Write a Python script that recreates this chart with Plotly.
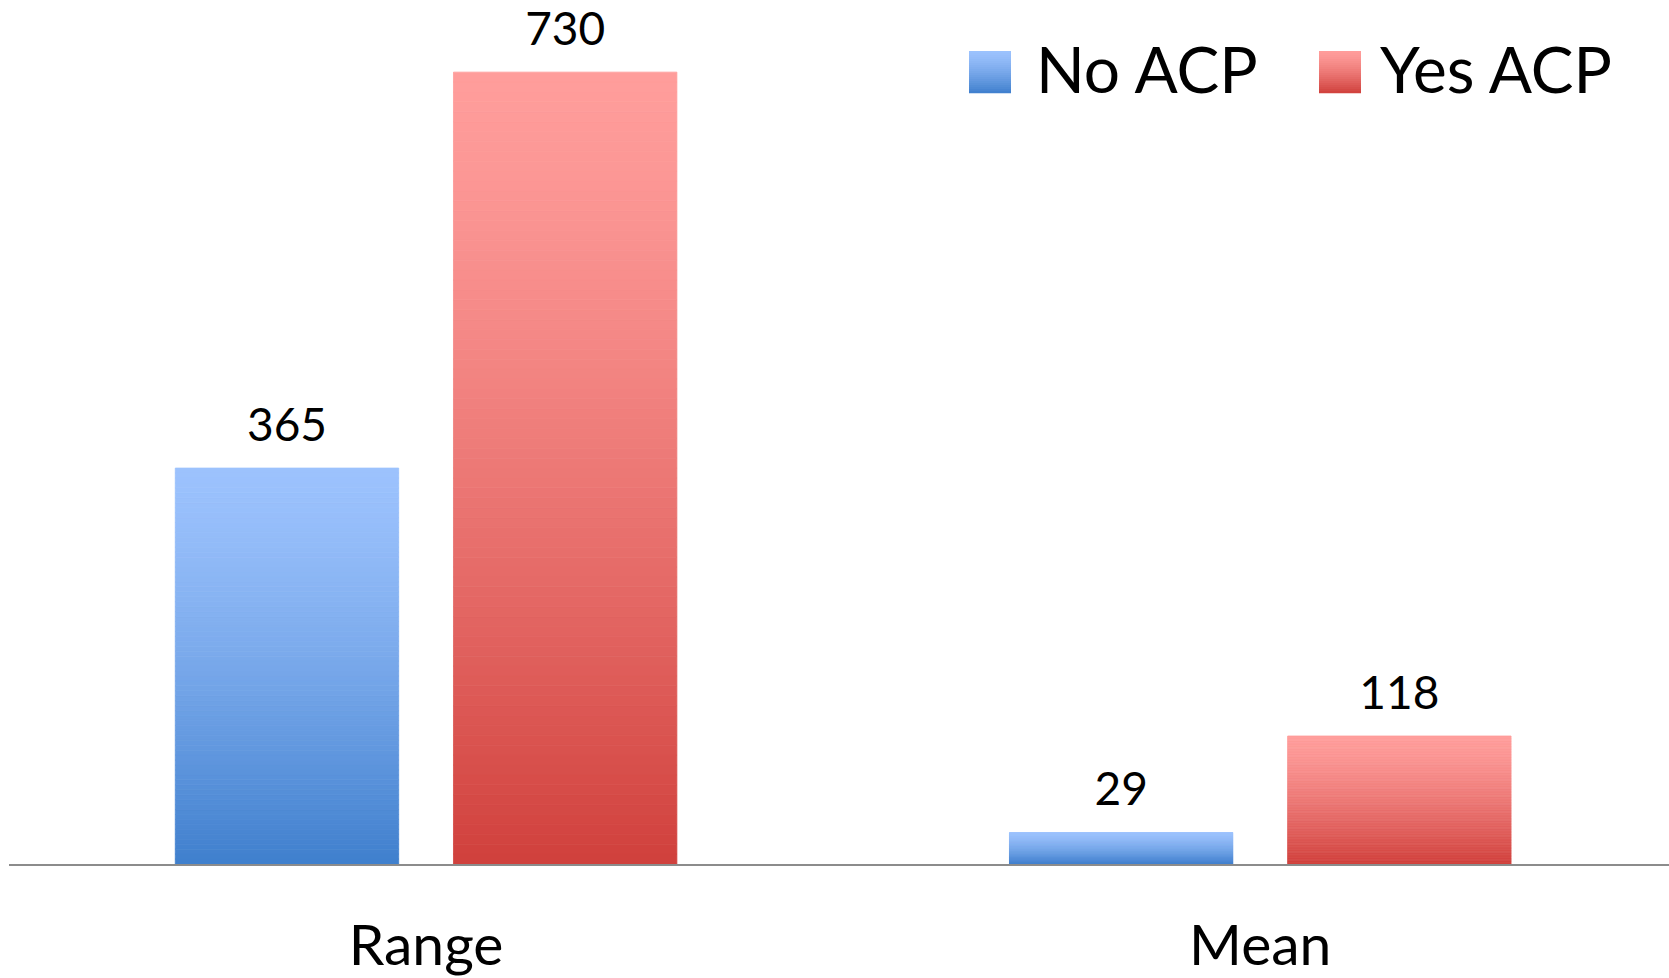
import plotly.graph_objects as go

# Chart data
categories = ["Range", "Mean"]
series_names = ["No ACP", "Yes ACP"]
no_acp = [365, 29]
yes_acp = [730, 118]

# Vertical gradient colours (top -> bottom) for each series
grad_colors = {
    "No ACP": ((156, 194, 253), (63, 127, 205)),
    "Yes ACP": ((255, 157, 155), (208, 64, 60)),
}

N_SEG = 80
FONT = "Lato"
W, H = 1669, 978
L_M, B_M = 9, 114
BARGAP = 0.333


def mix(c_top, c_bot, t, gamma=1.35):
    f = t ** gamma
    return "rgb(%d,%d,%d)" % tuple(round(a + (b - a) * f) for a, b in zip(c_top, c_bot))


fig = go.Figure()

for name, vals in zip(series_names, [no_acp, yes_acp]):
    c_top, c_bot = grad_colors[name]
    # bar built from thin stacked slices to give a vertical gradient
    for k in range(N_SEG):
        t = 1 - (k + 0.5) / N_SEG
        col = mix(c_top, c_bot, t)
        fig.add_trace(go.Bar(
            x=categories,
            y=[v / N_SEG for v in vals],
            base=[v * k / N_SEG for v in vals],
            offsetgroup=name,
            name=name,
            marker=dict(color=col, line=dict(color=col, width=0.8)),
            showlegend=False,
            hoverinfo="skip",
        ))

# value labels above each bar, aligned with the grouped bars
for name, vals in zip(series_names, [no_acp, yes_acp]):
    fig.add_trace(go.Scatter(
        x=categories,
        y=vals,
        mode="markers+text",
        offsetgroup=name,
        text=[str(v) for v in vals],
        textposition="top center",
        textfont=dict(family=FONT, size=46, color="black"),
        marker=dict(size=24, color="rgba(0,0,0,0)"),
        cliponaxis=False,
        showlegend=False,
        hoverinfo="skip",
    ))

# Legend drawn as gradient squares with labels
plot_w = W - L_M
plot_h = H - B_M


def px_x(px):
    return (px - L_M) / plot_w


def px_y(py):
    return (plot_h - py) / plot_h


shapes = []
annotations = []
legend_items = [("No ACP", 969, 1034), ("Yes ACP", 1319, 1378)]
SQ = 42
SQ_TOP = 51
n_sq = 21
for name, sx, tx in legend_items:
    c_top, c_bot = grad_colors[name]
    for k in range(n_sq):
        t = (k + 0.5) / n_sq
        col = mix(c_top, c_bot, t)
        y0 = SQ_TOP + SQ * k / n_sq
        y1 = SQ_TOP + SQ * (k + 1) / n_sq
        shapes.append(dict(
            type="rect", xref="paper", yref="paper",
            x0=px_x(sx), x1=px_x(sx + SQ), y0=px_y(y1 + 0.3), y1=px_y(y0),
            fillcolor=col, line=dict(width=0), layer="above",
        ))
    annotations.append(dict(
        text=name, xref="paper", yref="paper",
        x=px_x(tx), y=px_y(68), xanchor="left", yanchor="middle",
        showarrow=False, font=dict(family=FONT, size=64, color="black"),
    ))

fig.update_layout(
    width=W, height=H,
    margin=dict(l=L_M, r=0, t=0, b=B_M),
    paper_bgcolor="white", plot_bgcolor="white",
    barmode="group",
    bargap=BARGAP, bargroupgap=0.197,
    scattermode="group", scattergap=BARGAP,
    xaxis=dict(
        type="category", range=[-0.5, 1.49],
        showline=True, linecolor="#8c8c8c", linewidth=2,
        showgrid=False, ticks="",
        tickfont=dict(family=FONT, size=57, color="black"),
        ticklabelstandoff=31,
    ),
    yaxis=dict(range=[0, 796.5], visible=False, showgrid=False, zeroline=False),
    shapes=shapes,
    annotations=annotations,
    showlegend=False,
)

fig.write_html("out.html")
